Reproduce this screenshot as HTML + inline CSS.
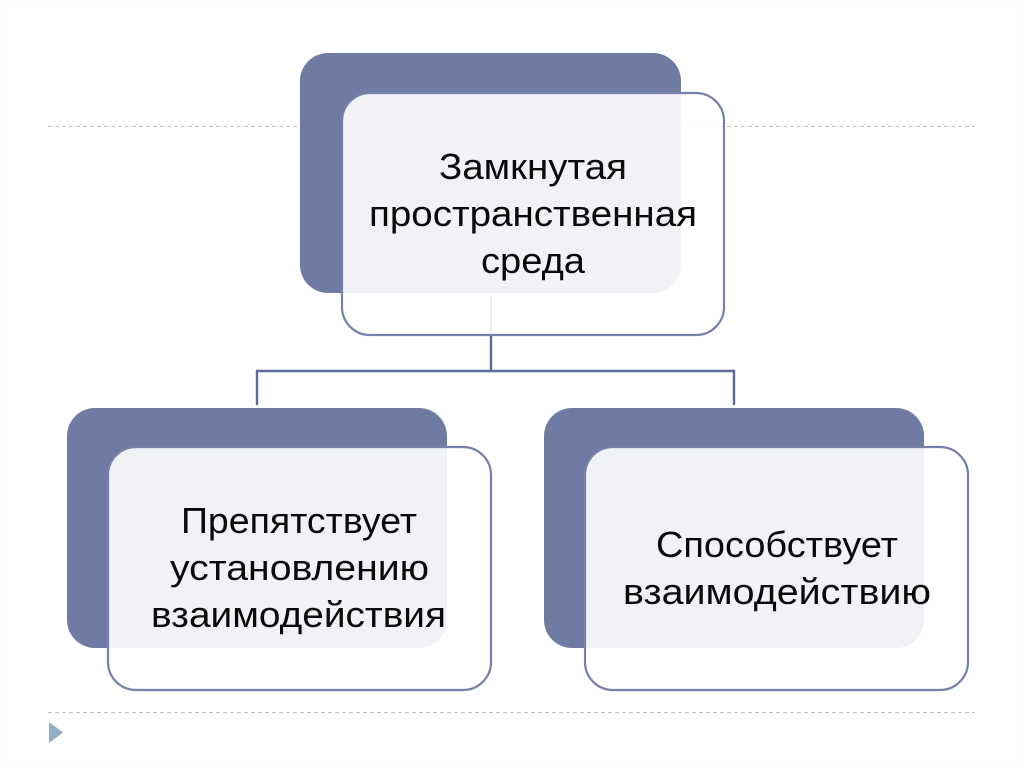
<!DOCTYPE html>
<html lang="ru">
<head>
<meta charset="utf-8">
<title>Замкнутая пространственная среда</title>
<style>
html,body{margin:0;padding:0;background:#fff;width:1024px;height:767px;overflow:hidden}
svg{display:block}
text{font-family:"Liberation Sans",sans-serif;font-size:36px;fill:#0a0a0a}
</style>
</head>
<body>
<svg width="1024" height="767" viewBox="0 0 1024 767" xmlns="http://www.w3.org/2000/svg">
<rect x="0" y="0" width="1024" height="767" fill="#fff"/>
<rect x="1.5" y="1.5" width="1021" height="764" fill="none" stroke="#fbfbfb" stroke-width="1"/>

<!-- dashed rules -->
<line x1="48" y1="126.5" x2="975" y2="126.5" stroke="#b4c4d0" stroke-width="1" stroke-dasharray="4 3"/>
<line x1="48" y1="712.5" x2="975" y2="712.5" stroke="#b4c4d0" stroke-width="1" stroke-dasharray="4 3"/>
<polygon points="49,722 63,732.5 49,743" fill="#95aec8"/>

<!-- connectors -->
<path d="M491 335V371M257 405V371H734V405" fill="none" stroke="#5f6b97" stroke-width="2.4"/>

<!-- dark backs -->
<rect x="300" y="53" width="381" height="240" rx="28" fill="#707ba3"/>
<rect x="67" y="408" width="380" height="240" rx="28" fill="#707ba3"/>
<rect x="544" y="408" width="380" height="240" rx="28" fill="#707ba3"/>

<!-- light fronts -->
<g fill="#ffffff" fill-opacity="0.9" stroke="#7680a8" stroke-width="2.2">
<rect x="342" y="93" width="382" height="242" rx="28"/>
<rect x="108" y="447" width="383" height="243" rx="28"/>
<rect x="585" y="447" width="383" height="243" rx="28"/>
</g>
<line x1="491" y1="296" x2="491" y2="334" stroke="#e6e8ef" stroke-width="1.5"/>

<!-- labels -->
<text x="439" y="179" textLength="188" lengthAdjust="spacingAndGlyphs">Замкнутая</text>
<text x="369" y="226" textLength="328" lengthAdjust="spacingAndGlyphs">пространственная</text>
<text x="481" y="273" textLength="104" lengthAdjust="spacingAndGlyphs">среда</text>

<text x="181" y="533" textLength="236" lengthAdjust="spacingAndGlyphs">Препятствует</text>
<text x="170" y="580" textLength="259" lengthAdjust="spacingAndGlyphs">установлению</text>
<text x="151" y="627" textLength="295" lengthAdjust="spacingAndGlyphs">взаимодействия</text>

<text x="656" y="557" textLength="242" lengthAdjust="spacingAndGlyphs">Способствует</text>
<text x="623" y="604" textLength="308" lengthAdjust="spacingAndGlyphs">взаимодействию</text>
</svg>
</body>
</html>
